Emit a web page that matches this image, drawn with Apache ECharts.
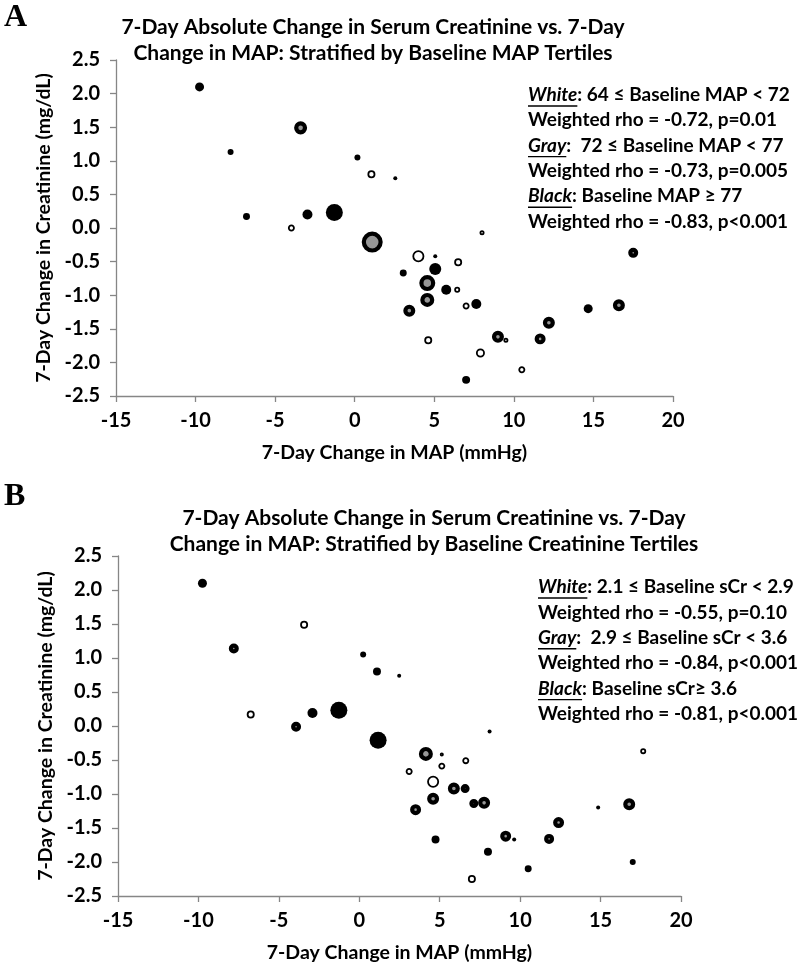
<!DOCTYPE html>
<html><head><meta charset="utf-8">
<script src="https://cdn.jsdelivr.net/npm/echarts@6/dist/echarts.min.js"></script>
<style>html,body{margin:0;padding:0;background:#fff}#c{width:800px;height:965px}</style>
</head><body><div id="c"></div>
<script>
// ---- data: [x = 7-day change in MAP, y = 7-day change in creatinine, bubble weight] ----
const panelA_white = [[1.05,0.80,7.1],[-3.98,0.00,5.4],[8.0,-0.07,2.8],[4.0,-0.42,16],[6.5,-0.51,7.1],[6.44,-0.92,4],[7.0,-1.16,5.4],[4.62,-1.67,7.1],[9.5,-1.67,2.8],[7.9,-1.86,9],[10.5,-2.11,5.4]];
const panelA_gray  = [[-3.4,1.49,18.8],[1.1,-0.21,49],[4.56,-0.82,28.4],[4.56,-1.07,21.8],[3.43,-1.23,16],[9.0,-1.62,16],[11.65,-1.65,13.4],[12.2,-1.41,16],[16.6,-1.15,16],[17.5,-0.37,11.1]];
const panelA_black = [[-9.75,2.10,9],[-7.8,1.13,4],[0.17,1.05,4],[2.55,0.74,1.8],[-6.8,0.17,5.4],[-2.97,0.20,11.1],[-1.28,0.23,32.1],[5.06,-0.42,1.8],[3.05,-0.67,5.4],[5.06,-0.61,16],[5.75,-0.92,11.1],[7.64,-1.13,11.1],[14.67,-1.20,9],[7.0,-2.26,7.1]];
const panelB_white = [[-3.43,1.49,7.1],[-6.75,0.17,7.1],[5.13,-0.42,1.8],[6.62,-0.51,5.4],[3.1,-0.67,5.4],[5.13,-0.59,5.4],[4.59,-0.82,16],[17.65,-0.37,4],[7.0,-2.25,7.1]];
const panelB_gray  = [[-7.8,1.14,11.1],[-3.93,-0.01,11.1],[4.14,-0.41,21.8],[5.88,-0.92,16],[6.58,-0.92,9],[4.59,-1.07,16],[7.12,-1.14,9],[7.76,-1.13,16],[3.5,-1.23,13.4],[9.1,-1.62,13.4],[11.8,-1.66,11.1],[12.39,-1.42,13.4],[16.78,-1.15,16]];
const panelB_black = [[-9.75,2.10,9],[0.24,1.05,4],[1.1,0.80,7.1],[2.48,0.74,1.8],[-2.91,0.19,11.1],[-1.27,0.23,32.1],[1.17,-0.21,32.1],[8.1,-0.08,1.8],[4.74,-1.67,7.1],[9.63,-1.67,1.8],[14.85,-1.20,1.8],[8.0,-1.85,7.1],[10.5,-2.10,5.4],[17.0,-2.00,4]];

const xTicks = [-15,-10,-5,0,5,10,15,20];
const yTicks = [-2.5,-2.0,-1.5,-1.0,-0.5,0.0,0.5,1.0,1.5,2.0,2.5];

const titleA = ['7-Day Absolute Change in Serum Creatinine vs. 7-Day','Change in MAP: Stratified by Baseline MAP Tertiles'];
const titleB = ['7-Day Absolute Change in Serum Creatinine vs. 7-Day','Change in MAP: Stratified by Baseline Creatinine Tertiles'];
const legendA = [['White',': 64 \u2264 Baseline MAP < 72'],['','Weighted rho = -0.72, p=0.01'],['Gray',':  72 \u2264 Baseline MAP < 77'],['','Weighted rho = -0.73, p=0.005'],['Black',': Baseline MAP \u2265 77'],['','Weighted rho = -0.83, p<0.001']];
const legendB = [['White',': 2.1 \u2264 Baseline sCr < 2.9'],['','Weighted rho = -0.55, p=0.10'],['Gray',':  2.9 \u2264 Baseline sCr < 3.6'],['','Weighted rho = -0.84, p<0.001'],['Black',': Baseline sCr\u2265 3.6'],['','Weighted rho = -0.81, p<0.001']];
const xName = '7-Day Change in MAP (mmHg)';
const yName = '7-Day Change in Creatinine (mg/dL)';

// ---- style ----
const FONT = 'Lato';
const FS = 20;
const LFS = 19;
const AXC = '#868686';
const GRAYFILL = '#979797';

const chart = echarts.init(document.getElementById('c'), null, {renderer:'canvas'});

function xAxis(gi){
  return {gridIndex:gi, type:'value', min:xTicks[0], max:xTicks[xTicks.length-1], interval:5,
    splitLine:{show:false},
    axisLine:{show:true, onZero:false, lineStyle:{color:AXC, width:1.3}},
    axisTick:{show:true, inside:false, length:6, lineStyle:{color:AXC, width:1.3}},
    axisLabel:{color:'#000', fontFamily:FONT, fontWeight:'bold', fontSize:FS, margin:15},
    name:xName, nameLocation:'middle', nameGap:47,
    nameTextStyle:{color:'#000', fontFamily:FONT, fontWeight:'bold', fontSize:19.5}};
}
function yAxis(gi){
  return {gridIndex:gi, type:'value', min:yTicks[0], max:yTicks[yTicks.length-1], interval:0.5,
    splitLine:{show:false},
    axisLine:{show:true, onZero:false, lineStyle:{color:AXC, width:1.3}},
    axisTick:{show:true, inside:false, length:6, lineStyle:{color:AXC, width:1.3}},
    axisLabel:{color:'#000', fontFamily:FONT, fontWeight:'bold', fontSize:FS, margin:16,
      formatter:v=>v.toFixed(1)},
    name:yName, nameLocation:'middle', nameGap:60, nameRotate:90,
    nameTextStyle:{color:'#000', fontFamily:FONT, fontWeight:'bold', fontSize:19.5}};
}
const sz = w => 3*Math.sqrt(w);
function series(data, kind, gi){
  const base = {type:'scatter', xAxisIndex:gi, yAxisIndex:gi, data:data, z: kind==='gray'?3:(kind==='white'?4:5)};
  if(kind==='white') return Object.assign(base,{symbolSize:d=>sz(d[2])-1.8, itemStyle:{color:'#fff', borderColor:'#000', borderWidth:1.8, opacity:1}});
  if(kind==='gray') return Object.assign(base,{symbolSize:d=>Math.max(sz(d[2])-4.2,2), itemStyle:{color:GRAYFILL, borderColor:'#000', borderWidth:4.2, opacity:1}});
  return Object.assign(base,{symbolSize:d=>sz(d[2]), itemStyle:{color:'#000', borderWidth:0, opacity:1}});
}

// text measuring for underlines
const mctx = document.createElement('canvas').getContext('2d');
function tw(text, font){ mctx.font = font; return mctx.measureText(text).width; }

const graphics = [];
function txt(x, y, text, font, align){
  return {type:'text', x:x, y:y, style:{text:text, fill:'#000', font:font, align:align, textAlign:align, verticalAlign:'middle', textVerticalAlign:'middle'}};
}
function addTitle(lines, cx, y0){
  lines.forEach((t,i)=>graphics.push(txt(cx, y0+i*26, t, 'bold 21px '+FONT, 'center')));
}
function addLegend(rows, x, y0, dy){
  rows.forEach((r,i)=>{
    const y = y0 + i*dy;
    const italFont = 'italic bold '+LFS+'px '+FONT;
    const normFont = 'bold '+LFS+'px '+FONT;
    let xx = x;
    if(r[0]){
      graphics.push(txt(xx, y, r[0], italFont, 'left'));
      const w = tw(r[0], italFont);
      graphics.push({type:'line', shape:{x1:xx, y1:y+11, x2:xx+w, y2:y+11}, style:{stroke:'#000', lineWidth:1.4}});
      xx += w;
    }
    graphics.push(txt(xx, y, r[1], normFont, 'left'));
  });
}
addTitle(titleA, 373, 27);
addTitle(titleB, 434, 518);
addLegend(legendA, 528, 95, 25.3);
addLegend(legendB, 538, 587, 25.4);
graphics.push(txt(4, 18, 'A', 'bold 32px "Liberation Serif"', 'left'));
graphics.push(txt(4, 497, 'B', 'bold 32px "Liberation Serif"', 'left'));

chart.setOption({
  animation:false,
  backgroundColor:'#fff',
  grid:[{left:116, top:60, width:557, height:336},{left:118, top:556, width:563, height:340}],
  xAxis:[xAxis(0), xAxis(1)],
  yAxis:[yAxis(0), yAxis(1)],
  series:[
    series(panelA_gray,'gray',0), series(panelA_white,'white',0), series(panelA_black,'black',0),
    series(panelB_gray,'gray',1), series(panelB_white,'white',1), series(panelB_black,'black',1)
  ],
  graphic:graphics
});
</script></body></html>
